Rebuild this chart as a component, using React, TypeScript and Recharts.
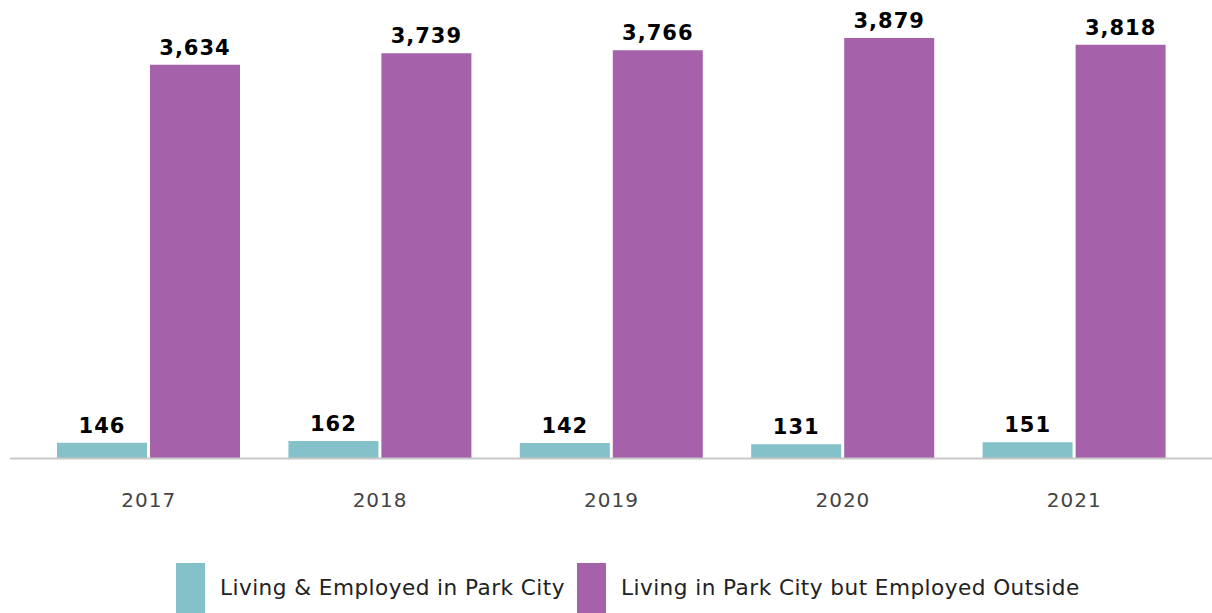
import React from 'react';
import { BarChart, Bar, XAxis, YAxis, LabelList, Legend } from 'recharts';

const years = ['2017', '2018', '2019', '2020', '2021'];
const livingEmployed = [146, 162, 142, 131, 151];
const livingOutside = [3634, 3739, 3766, 3879, 3818];
const seriesNames = ['Living & Employed in Park City', 'Living in Park City but Employed Outside'];
const colors = ['#85c1c8', '#a562aa'];

const data = years.map((y, i) => ({ year: y, a: livingEmployed[i], b: livingOutside[i] }));

const fmt = (v: any) => String(v).replace(/\B(?=(\d{3})+(?!\d))/g, ',');

const FONT = '"DejaVu Sans", sans-serif';

const renderLegend = () => (
  <div style={{ position: 'relative', width: 1212, height: 50, fontFamily: FONT }}>
    {seriesNames.map((n, i) => (
      <div key={n} style={{ position: 'absolute', left: i === 0 ? 176 : 577, top: 0, display: 'flex', alignItems: 'flex-start' }}>
        <div style={{ width: 29, height: 50, background: colors[i] }} />
        <span style={{ marginLeft: 15, marginTop: 12, fontSize: 21.6, letterSpacing: 0.45, color: '#222', lineHeight: '26px', whiteSpace: 'nowrap' }}>{n}</span>
      </div>
    ))}
  </div>
);

export default function App() {
  return (
    <div style={{ position: 'absolute', left: 0, top: 0, width: 1212, height: 613, overflow: 'hidden', background: '#fff' }}>
      <BarChart
        width={1212}
        height={613}
        data={data}
        margin={{ top: 25, right: 0, left: 10, bottom: 94.5 }}
        barCategoryGap={24}
        barGap={3}
      >
        <XAxis
          dataKey="year"
          height={60}
          padding={{ left: 23, right: 22 }}
          axisLine={{ stroke: '#c8c8c8', strokeWidth: 2 }}
          tickLine={false}
          tickSize={0}
          tickMargin={34}
          tick={{ fill: '#444', fontSize: 20, fontFamily: FONT, letterSpacing: 1 }}
        />
        <YAxis hide domain={[0, 4000]} />
        <Legend
          verticalAlign="middle"
          align="center"
          content={renderLegend}
          wrapperStyle={{ top: 563, left: 0, width: 1212, height: 50 }}
        />
        <Bar dataKey="a" name={seriesNames[0]} fill={colors[0]} isAnimationActive={false}>
          <LabelList
            dataKey="a"
            position="top"
            offset={10}
            formatter={fmt}
            style={{ fill: '#000', fontSize: 21, fontWeight: 'bold', fontFamily: FONT, letterSpacing: 1 }}
          />
        </Bar>
        <Bar dataKey="b" name={seriesNames[1]} fill={colors[1]} isAnimationActive={false}>
          <LabelList
            dataKey="b"
            position="top"
            offset={10}
            formatter={fmt}
            style={{ fill: '#000', fontSize: 21, fontWeight: 'bold', fontFamily: FONT, letterSpacing: 1 }}
          />
        </Bar>
      </BarChart>
    </div>
  );
}
